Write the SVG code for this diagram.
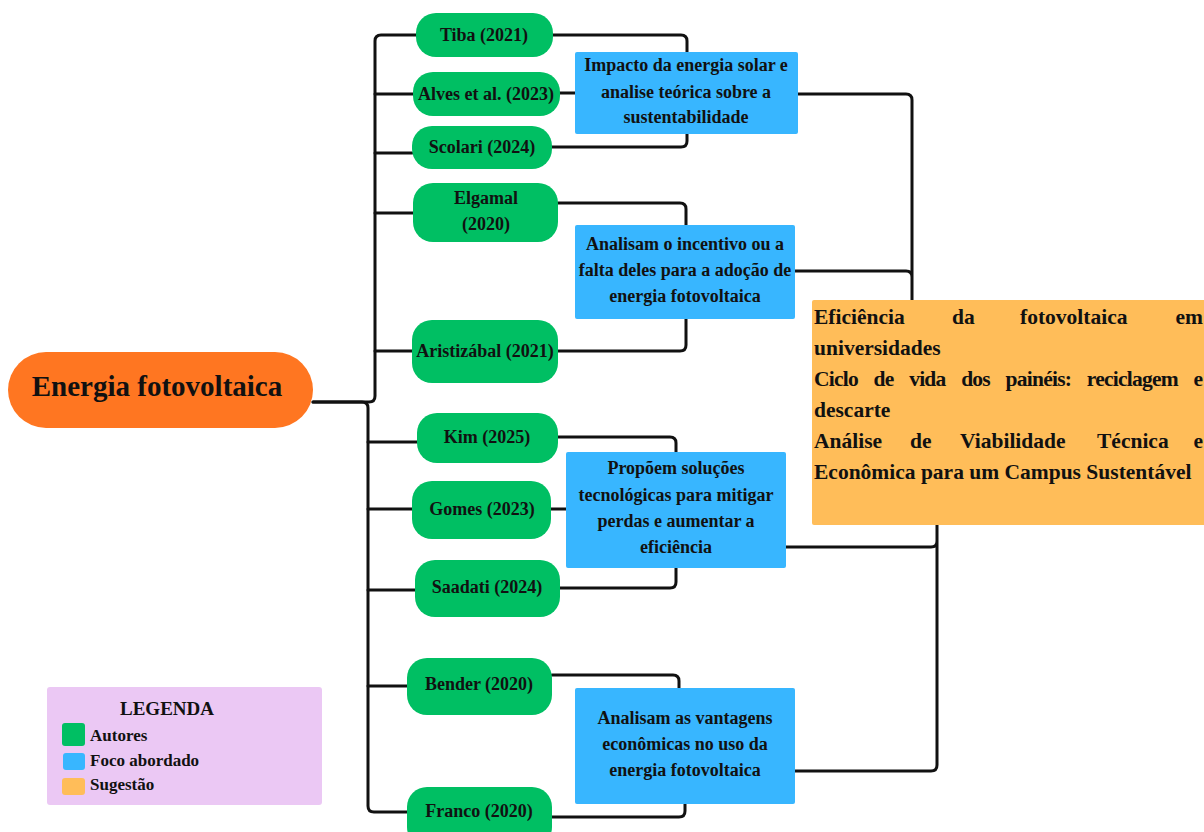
<svg xmlns="http://www.w3.org/2000/svg" width="1204" height="832" viewBox="0 0 1204 832">
<style>
.t{font-family:"Liberation Serif","Times New Roman",serif;font-weight:bold;fill:#111}
.a{fill:#00BF63}
.f{fill:#38B6FF}
.s{fill:#FFBD59}
.g{font-size:18px;text-anchor:middle}
.c{fill:none;stroke:#111;stroke-width:3;stroke-linecap:round;stroke-linejoin:round}
</style>
<rect width="1204" height="832" fill="#fff"/>
<g id="connectors" class="c">
<path d="M313,402 H369 Q375,402 375,396 V41 Q375,35 381,35 H416"/>
<path d="M375,94 H413 M375,153 H412 M375,213 H413 M375,351 H412"/>
<path d="M313,402 H362 Q368,402 368,408 V806 Q368,812 374,812 H407"/>
<path d="M368,442 H417 M368,509 H412 M368,590 H415 M368,686 H407"/>
<path d="M553,35 H681 Q687,35 687,41 V52 M552,147 H681 Q687,147 687,141 V134 M560,93 H575"/>
<path d="M798,94 H906 Q912,94 912,100 V300 M795,271 H906 Q912,271 912,277"/>
<path d="M558,203 H680 Q686,203 686,209 V225 M558,351 H680 Q686,351 686,345 V319"/>
<path d="M558,437 H670 Q676,437 676,443 V452 M560,588 H670 Q676,588 676,582 V568 M551,509 H566"/>
<path d="M786,547 H931 Q937,547 937,541 V525 M795,771 H931 Q937,771 937,765 V525"/>
<path d="M552,675 H673 Q679,675 679,681 V688 M552,817 H679 Q685,817 685,811 V804"/>
</g>
<g id="central">
<rect x="8" y="352" width="305" height="76" rx="38" fill="#FF7621"/>
<text class="t" x="157" y="396" font-size="29" text-anchor="middle">Energia fotovoltaica</text>
</g>
<g id="tiba"><rect class="a" x="416" y="13" width="137" height="44" rx="20"/><text class="t g" x="484" y="41">Tiba (2021)</text></g>
<g id="alves"><rect class="a" x="413" y="72" width="147" height="44" rx="20"/><text class="t g" x="486" y="100">Alves et al. (2023)</text></g>
<g id="scolari"><rect class="a" x="412" y="126" width="140" height="43" rx="20"/><text class="t g" x="482" y="153">Scolari (2024)</text></g>
<g id="elgamal"><rect class="a" x="413" y="183" width="145" height="59" rx="20"/><text class="t g" x="486" y="204">Elgamal</text><text class="t g" x="486" y="230">(2020)</text></g>
<g id="aristizabal"><rect class="a" x="412" y="320" width="146" height="63" rx="20"/><text class="t g" x="485" y="357">Aristizábal (2021)</text></g>
<g id="kim"><rect class="a" x="417" y="413" width="141" height="50" rx="20"/><text class="t g" x="487" y="443">Kim (2025)</text></g>
<g id="gomes"><rect class="a" x="412" y="481" width="139" height="58" rx="20"/><text class="t g" x="482" y="515">Gomes (2023)</text></g>
<g id="saadati"><rect class="a" x="415" y="560" width="145" height="57" rx="20"/><text class="t g" x="487" y="593">Saadati (2024)</text></g>
<g id="bender"><rect class="a" x="407" y="658" width="145" height="57" rx="20"/><text class="t g" x="479" y="690">Bender (2020)</text></g>
<g id="franco"><rect class="a" x="407" y="787" width="145" height="60" rx="20"/><text class="t g" x="479" y="817">Franco (2020)</text></g>
<g id="foco1"><rect class="f" x="575" y="52" width="223" height="82" rx="2"/>
<text class="t g" x="686" y="71">Impacto da energia solar e</text>
<text class="t g" x="686" y="98">analise teórica sobre a</text>
<text class="t g" x="686" y="123">sustentabilidade</text></g>
<g id="foco2"><rect class="f" x="575" y="225" width="220" height="94" rx="2"/>
<text class="t g" x="685" y="250">Analisam o incentivo ou a</text>
<text class="t g" x="685" y="276">falta deles para a adoção de</text>
<text class="t g" x="685" y="302">energia fotovoltaica</text></g>
<g id="foco3"><rect class="f" x="566" y="452" width="220" height="116" rx="2"/>
<text class="t g" x="676" y="474">Propõem soluções</text>
<text class="t g" x="676" y="501">tecnológicas para mitigar</text>
<text class="t g" x="676" y="527">perdas e aumentar a</text>
<text class="t g" x="676" y="553">eficiência</text></g>
<g id="foco4"><rect class="f" x="575" y="688" width="220" height="116" rx="2"/>
<text class="t g" x="685" y="724">Analisam as vantagens</text>
<text class="t g" x="685" y="750">econômicas no uso da</text>
<text class="t g" x="685" y="776">energia fotovoltaica</text></g>
<g id="sugestao"><rect class="s" x="812" y="300" width="394" height="225" rx="2"/>
<text class="t" font-size="21.5"><tspan x="814" y="324">Eficiência</tspan><tspan x="952" y="324">da</tspan><tspan x="1020" y="324">fotovoltaica</tspan><tspan x="1203" y="324" text-anchor="end">em</tspan></text>
<text class="t" font-size="21.5" x="814" y="355">universidades</text>
<text class="t" font-size="21.5" x="814" y="386" textLength="389" lengthAdjust="spacing" word-spacing="11">Ciclo de vida dos painéis: reciclagem e</text>
<text class="t" font-size="21.5" x="814" y="417">descarte</text>
<text class="t" font-size="21.5"><tspan x="814" y="448">Análise</tspan><tspan x="910" y="448">de</tspan><tspan x="960" y="448">Viabilidade</tspan><tspan x="1097" y="448">Técnica</tspan><tspan x="1203" y="448" text-anchor="end">e</tspan></text>
<text class="t" font-size="21.5" x="814" y="479">Econômica para um Campus Sustentável</text></g>
<g id="legenda"><rect x="47" y="687" width="275" height="118" rx="3" fill="#EBC8F4"/>
<text class="t" x="167" y="715" font-size="19" text-anchor="middle">LEGENDA</text>
<rect class="a" x="62" y="723" width="23" height="23" rx="3"/>
<rect class="f" x="63" y="753" width="22" height="17" rx="3"/>
<rect class="s" x="62" y="778" width="23" height="17" rx="3"/>
<text class="t" x="90" y="741" font-size="17">Autores</text>
<text class="t" x="90" y="766" font-size="17">Foco abordado</text>
<text class="t" x="90" y="790" font-size="17">Sugestão</text></g>
</svg>
